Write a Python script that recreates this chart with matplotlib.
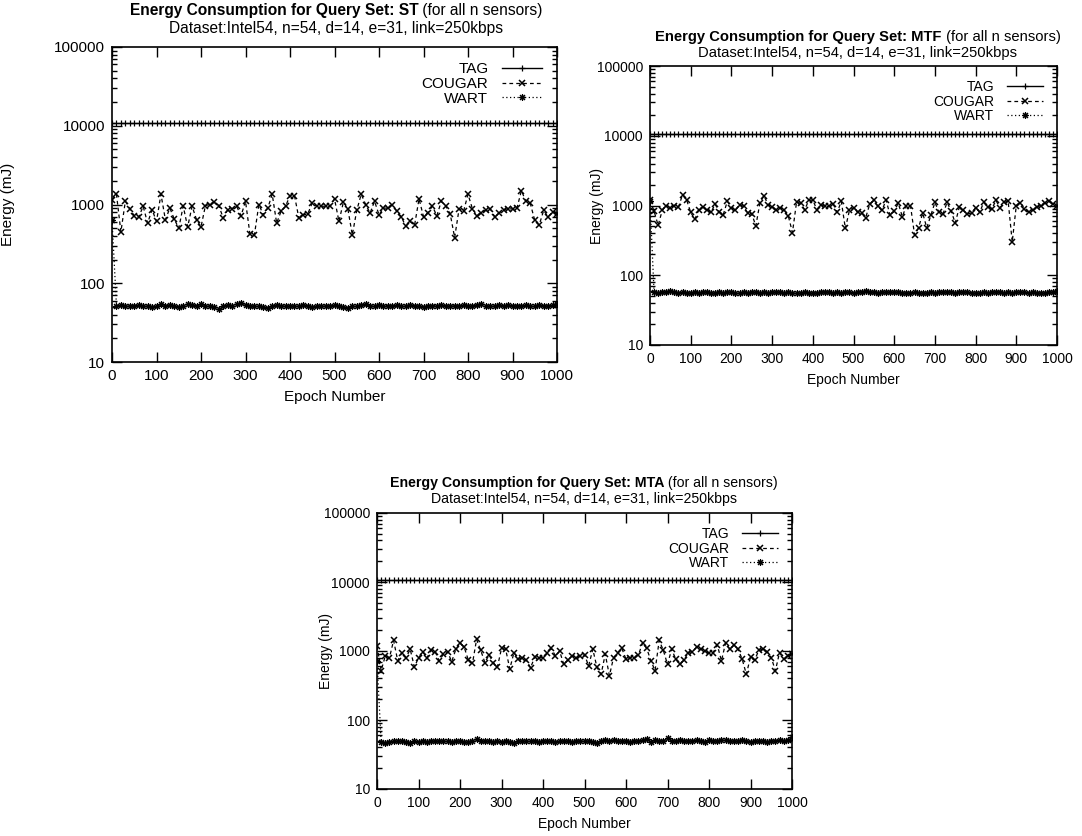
import numpy as np
import matplotlib
matplotlib.use("Agg")
import matplotlib.pyplot as plt
from matplotlib.ticker import LogLocator, FuncFormatter, NullFormatter

plt.rcParams['font.family'] = ['Liberation Sans', 'DejaVu Sans']

# epochs sampled every 10
epochs = np.arange(0, 1001, 10)

# TAG is flat just above 10000 in all three runs
tag_level = 10700
tag_st = [tag_level] * len(epochs)
tag_mtf = [tag_level] * len(epochs)
tag_mta = [tag_level] * len(epochs)

cougar_st = [
    1150, 1350, 450, 1100, 880, 720, 690, 950, 580, 860,
    610, 1350, 640, 900, 650, 500, 950, 520, 950, 640,
    520, 970, 1000, 1070, 970, 670, 860, 880, 950, 720,
    1100, 420, 410, 1000, 740, 900, 1350, 580, 820, 950,
    1300, 1300, 670, 740, 760, 1050, 950, 950, 950, 950,
    1180, 610, 1070, 880, 410, 840, 1350, 1000, 780, 1100,
    740, 900, 900, 1000, 820, 700, 530, 610, 550, 1180,
    700, 790, 950, 720, 1100, 950, 760, 380, 880, 820,
    1350, 880, 720, 780, 860, 880, 700, 780, 860, 880,
    880, 900, 1500, 1100, 1030, 630, 550, 840, 700, 800,
    760,
]
wart_st = [
    640, 52, 53, 52, 51, 52, 53, 52, 51, 50,
    51, 54, 52, 53, 51, 50, 52, 54, 53, 52,
    55, 52, 51, 50, 47, 51, 53, 52, 54, 56,
    53, 52, 51, 52, 50, 48, 52, 53, 52, 51,
    52, 51, 52, 53, 52, 50, 51, 52, 51, 52,
    53, 52, 50, 49, 51, 52, 53, 54, 52, 51,
    53, 52, 52, 51, 53, 52, 51, 53, 52, 51,
    50, 51, 52, 52, 53, 52, 51, 52, 51, 53,
    52, 52, 53, 54, 52, 52, 51, 53, 52, 53,
    52, 51, 52, 53, 52, 51, 53, 52, 51, 53,
    54,
]

cougar_mtf = [
    1200, 830, 520, 850, 1000, 930, 1000, 950, 1430, 1200,
    800, 630, 870, 950, 870, 800, 1050, 800, 740, 1150,
    930, 850, 1030, 970, 780, 760, 510, 1080, 1380, 1030,
    950, 870, 930, 850, 700, 410, 1110, 1080, 870, 1180,
    1200, 870, 1030, 970, 970, 1050, 800, 1150, 470, 850,
    930, 800, 780, 670, 1050, 1180, 970, 850, 1200, 720,
    830, 1080, 690, 1000, 1000, 380, 480, 780, 480, 720,
    1110, 800, 760, 1110, 830, 560, 950, 850, 760, 780,
    930, 800, 1110, 950, 900, 1180, 930, 1110, 1150, 300,
    1000, 1100, 900, 800, 850, 950, 1000, 1100, 1150, 1050,
    1000,
]
wart_mtf = [
    1150, 57, 56, 57, 58, 60, 57, 56, 57, 56,
    55, 57, 56, 58, 57, 56, 55, 57, 56, 58,
    57, 56, 55, 57, 56, 58, 57, 56, 57, 56,
    57, 58, 57, 56, 57, 56, 55, 56, 57, 56,
    55, 56, 57, 58, 57, 56, 57, 56, 57, 58,
    56, 57, 58, 59, 58, 57, 56, 57, 58, 57,
    58, 57, 56, 55, 56, 57, 56, 55, 56, 57,
    56, 57, 58, 57, 58, 56, 57, 58, 57, 56,
    55, 56, 57, 56, 57, 58, 57, 56, 57, 56,
    57, 58, 57, 56, 57, 56, 55, 56, 57, 58,
    59,
]

cougar_mta = [
    1180, 520, 850, 800, 1420, 720, 950, 800, 1060, 590,
    790, 980, 790, 1020, 980, 720, 900, 980, 700, 1060,
    1310, 1140, 740, 660, 1470, 1020, 680, 880, 680, 580,
    1090, 1060, 550, 950, 760, 790, 740, 570, 820, 800,
    800, 920, 1090, 850, 1000, 640, 740, 850, 790, 850,
    880, 610, 1060, 580, 460, 900, 440, 800, 950, 1090,
    760, 800, 800, 880, 1310, 1090, 720, 520, 1420, 1020,
    640, 1060, 760, 640, 740, 950, 980, 1140, 1060, 1000,
    920, 950, 1220, 720, 1310, 1060, 1220, 1060, 760, 460,
    820, 740, 1020, 1060, 980, 800, 520, 950, 760, 850,
    900,
]
wart_mta = [
    720, 48, 47, 48, 50, 50, 49, 48, 47, 49,
    48, 49, 48, 49, 49, 50, 49, 49, 48, 50,
    49, 48, 48, 49, 53, 50, 49, 50, 48, 49,
    48, 49, 48, 47, 49, 50, 49, 49, 50, 48,
    49, 50, 49, 48, 49, 50, 49, 48, 49, 50,
    49, 50, 48, 47, 50, 51, 50, 51, 50, 49,
    49, 48, 49, 50, 51, 53, 48, 51, 49, 50,
    54, 49, 50, 51, 50, 49, 50, 51, 49, 48,
    51, 50, 49, 51, 52, 50, 49, 50, 51, 50,
    48, 49, 50, 49, 48, 49, 50, 51, 50, 51,
    56,
]

subtitle = "Dataset:Intel54, n=54, d=14, e=31, link=250kbps"

W, H = 1082, 836
fig = plt.figure(figsize=(W / 100, H / 100), dpi=100)


def px_axes(left, top, right, bottom):
    return fig.add_axes([left / W, 1 - bottom / H, (right - left) / W, (bottom - top) / H])


def title(xc, y1, y2, qset, fs):
    r = fig.canvas.get_renderer()
    t1 = fig.text(0, 1 - y1 / H, "Energy Consumption for Query Set: " + qset,
                  fontsize=fs, fontweight='bold', va='center')
    t2 = fig.text(0, 1 - y1 / H, " (for all n sensors)", fontsize=fs, va='center')
    w1 = t1.get_window_extent(r).width
    w2 = t2.get_window_extent(r).width
    x0 = xc - (w1 + w2) / 2
    t1.set_x(x0 / W)
    t2.set_x((x0 + w1) / W)
    fig.text(xc / W, 1 - y2 / H, subtitle, fontsize=fs, ha='center', va='center')


def panel(ax, tag, cougar, wart, fs, ylab_x):
    ax.plot(epochs, tag, color='k', lw=1, marker='+', ms=5, mew=0.9, label='TAG')
    ax.plot(epochs, cougar, color='k', lw=0.9, ls=(0, (3, 2.5)), marker='x', ms=4.5,
            mew=1.1, label='COUGAR')
    ax.plot(epochs, wart, color='k', lw=0.9, ls=(0, (1, 2)), marker=(8, 2, 0), ms=5,
            mew=0.8, label='WART')
    ax.set_yscale('log')
    ax.set_xlim(0, 1000)
    ax.set_ylim(10, 100000)
    ax.set_xticks(np.arange(0, 1001, 100))
    ax.yaxis.set_major_locator(LogLocator(base=10, numticks=10))
    ax.yaxis.set_minor_locator(LogLocator(base=10, subs=np.arange(2, 10), numticks=10))
    ax.yaxis.set_major_formatter(FuncFormatter(lambda v, p: '%d' % round(v)))
    ax.yaxis.set_minor_formatter(NullFormatter())
    ax.tick_params(which='both', direction='in', top=True, right=True,
                   labelsize=fs, width=1)
    ax.tick_params(which='major', length=7, pad=5)
    ax.tick_params(which='minor', length=3.5)
    for s in ax.spines.values():
        s.set_linewidth(1.2)
    ax.set_xlabel('Epoch Number', fontsize=fs, labelpad=5)
    ax.set_ylabel('Energy (mJ)', fontsize=fs)
    bb = ax.get_position()
    ax.yaxis.set_label_coords((ylab_x / W - bb.x0) / bb.width, 0.5)
    ax.legend(loc='upper right', frameon=False, markerfirst=False, numpoints=1,
              fontsize=fs, handlelength=2.6, handletextpad=0.9, labelspacing=0.05,
              borderaxespad=0.6, borderpad=0.4)


ax1 = px_axes(112, 47, 557, 362)
panel(ax1, tag_st, cougar_st, wart_st, 11, 15)
title(336, 11, 28, "ST", 11.2)

ax2 = px_axes(650, 66, 1057, 345)
panel(ax2, tag_mtf, cougar_mtf, wart_mtf, 10, 604)
title(858, 37, 53, "MTF", 10.6)

ax3 = px_axes(377, 513, 792, 789)
panel(ax3, tag_mta, cougar_mta, wart_mta, 10, 333)
title(584, 483, 499, "MTA", 10.2)

fig.savefig("out.png", dpi=100)
